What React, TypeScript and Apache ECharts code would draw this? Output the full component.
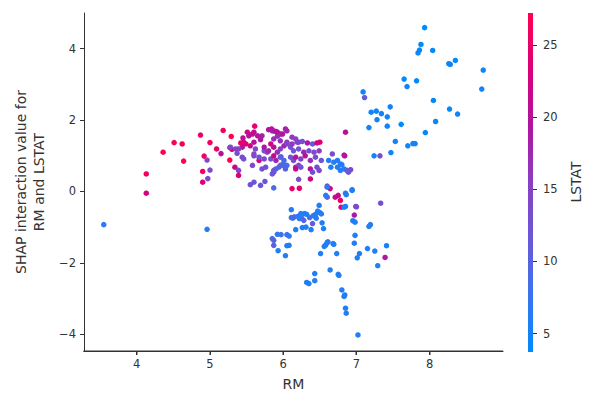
import React, { useEffect, useRef } from "react";
import * as echarts from "echarts";

// Each index is one point: RM (x), SHAP interaction value (y), LSTAT (colour)
const rm = [
  7.93, 7.88, 7.86, 7.84, 8.04, 8.26, 8.28, 8.35, 8.73, 8.71, 7.65, 7.69, 7.82, 7.09, 7.11, 8.05, 8.27, 8.38, 7.46, 7.20,
  7.27, 7.34, 7.42, 7.28, 7.17, 7.42, 7.61, 8.08, 7.94, 7.53, 7.70, 7.77, 7.80, 7.47, 7.24, 7.32, 6.92, 6.94, 6.99, 7.00,
  7.33, 6.97, 6.95, 6.98, 7.17, 7.19, 6.98, 6.97, 7.15, 7.25, 7.41, 7.39, 7.01, 7.04, 7.29, 6.85, 6.84, 6.80, 6.88, 6.85,
  6.71, 6.78, 6.79, 6.75, 6.60, 6.86, 6.85, 6.11, 6.49, 6.50, 6.52, 6.11, 6.13, 6.15, 6.29, 6.32, 6.41, 6.44, 6.22, 6.25,
  6.28, 6.40, 6.53, 6.55, 6.17, 6.26, 6.31, 6.38, 5.92, 5.97, 6.05, 6.08, 5.85, 5.87, 5.87, 5.93, 6.03, 6.05, 6.08, 6.61,
  6.56, 6.58, 6.69, 6.51, 6.73, 6.64, 6.43, 6.43, 6.32, 6.35, 6.75, 6.76, 6.80, 6.83, 6.84, 6.85, 6.86, 7.02, 6.60, 6.68,
  6.20, 6.36, 6.45, 6.24, 6.47,
  4.96, 3.55, 4.13, 4.13, 4.36, 4.51, 4.62, 4.64, 4.87, 5.18, 5.29, 5.00, 5.09, 5.15, 5.27, 5.30, 4.92, 4.96, 4.90, 5.00,
  4.90, 4.97, 5.27, 5.34, 5.39, 5.39, 5.55, 5.60, 5.69, 5.75, 5.87, 6.21, 6.37, 6.60, 6.64, 6.58, 6.94, 6.12, 6.22,
  5.51, 5.53, 5.61, 5.58, 5.71, 5.69, 5.80, 5.84, 5.87, 5.92, 5.96, 5.92, 6.05, 5.46, 5.42, 5.44, 5.39, 5.60, 5.55, 5.62,
  5.74, 5.78, 5.60, 5.67, 5.74, 5.83, 5.90, 5.96, 5.87, 5.92, 5.96, 6.01, 6.05, 5.44, 5.46, 5.58, 5.71, 5.76, 5.87, 5.90,
  5.96, 6.00, 5.45, 5.49, 5.60, 5.65, 5.85, 5.90, 5.99, 6.03, 5.87, 5.96, 6.12, 6.17, 6.21, 6.05, 6.10, 6.14, 5.83, 5.87,
  5.80, 5.74, 5.60, 5.67, 5.28, 5.35, 5.37, 5.97, 6.01, 6.00, 5.94, 6.05, 6.03, 6.10, 6.14, 6.17, 6.21, 5.85, 5.87, 6.12,
  6.19, 6.26, 6.33, 6.40, 6.46, 6.50, 6.21, 6.28, 6.35, 6.42, 6.49, 6.17, 6.24, 6.30, 6.37, 6.44, 6.52, 6.17, 6.24, 6.37,
  6.40, 6.46, 6.49, 6.67, 6.62, 6.69, 6.74, 6.78, 6.74, 6.78, 6.65, 6.83, 6.89, 6.87, 6.83, 6.60, 6.83,
];

const shapVals = [
  4.59, 4.12, 3.96, 3.88, 3.95, 3.58, 3.56, 3.67, 3.40, 2.87, 3.15, 2.94, 3.10, 2.79, 2.63, 2.55, 2.31, 2.17, 2.37, 2.22,
  2.25, 2.18, 2.09, 2.01, 1.79, 1.83, 1.88, 1.96, 1.65, 1.40, 1.28, 1.34, 1.34, 1.09, 1.00, 1.00, 0.61, 0.05, -0.42, -0.43,
  -0.33, -0.66, -0.82, -0.86, -0.98, -0.93, -1.23, -1.45, -1.60, -1.67, -1.52, -1.85, -1.86, -1.74, -2.08, 1.66, 1.00, 0.75, 0.58, -0.05,
  -0.16, -0.25, -0.44, -0.11, -0.16, -0.09, -0.42, -0.51, -0.39, -0.59, -0.63, -0.73, -0.75, -0.71, -0.62, -0.64, -0.68, -0.64, -0.76, -0.74,
  -0.81, -0.90, -0.88, -1.04, -1.07, -1.01, -1.00, -1.07, -1.20, -1.21, -1.21, -1.25, -1.32, -1.37, -1.51, -1.66, -1.80, -1.52, -1.51, -1.41,
  -1.54, -1.50, -1.48, -1.74, -1.74, -2.20, -2.30, -2.50, -2.55, -2.58, -2.32, -2.35, -2.76, -2.94, -2.90, -3.27, -3.41, -4.02, -1.43, -1.46,
  -0.70, -0.73, -0.75, -0.62, -0.55,
  -1.06, -0.93, 0.49, -0.05, 1.10, 1.37, 1.33, 0.85, 1.58, 1.71, 1.54, 1.37, 1.19, 1.06, 1.23, 1.18, 0.99, 0.88, 0.56, 0.60,
  0.26, 0.36, 0.88, 0.68, 0.59, 0.45, 0.19, 0.26, 0.17, 0.28, 0.10, 0.34, 0.35, 0.15, 0.08, -0.11, 0.03, 0.08, 0.09,
  1.66, 1.56, 1.83, 1.61, 1.56, 1.45, 1.73, 1.75, 1.70, 1.66, 1.61, 1.55, 1.70, 1.38, 1.36, 1.24, 1.19, 1.38, 1.28, 1.19,
  1.14, 1.10, 1.00, 0.87, 0.91, 0.91, 0.87, 0.96, 1.00, 1.10, 1.19, 1.28, 1.38, 0.96, 0.91, 0.73, 0.63, 0.68, 0.59, 0.63,
  0.73, 0.77, 1.50, 1.33, 1.66, 1.56, 1.70, 1.68, 1.61, 1.75, 1.47, 1.42, 1.52, 1.47, 1.38, 1.33, 1.24, 1.14, 1.33, 1.24,
  1.14, 1.24, 1.05, 0.96, 1.24, 1.19, 1.07, 0.97, 0.87, 0.73, 0.68, 0.73, 0.63, 0.96, 0.87, 0.68, 0.73, 0.49, 0.54, 1.33,
  1.38, 1.40, 1.36, 1.33, 1.36, 1.38, 1.19, 1.10, 1.14, 1.10, 1.14, 0.96, 0.91, 1.00, 0.87, 0.96, 0.87, 0.63, 0.68, 0.63,
  0.54, 0.68, 0.59, 1.05, 0.87, 0.82, 0.87, 0.77, 0.68, 0.59, 0.68, 0.63, 0.54, 0.59, 1.02, 0.12, -0.44,
];

const lstat = [
  4, 4, 4, 5, 4, 4, 5, 4, 5, 5, 4, 5, 4, 5, 11, 4, 4, 5, 5, 5,
  5, 5, 5, 5, 5, 5, 4, 4, 4, 5, 5, 5, 5, 5, 5, 13, 14, 6, 13, 14,
  13, 19, 6, 6, 6, 6, 6, 6, 6, 6, 5, 19, 6, 6, 6, 20, 20, 6, 12, 6,
  22, 25, 24, 21, 10, 6, 6, 6, 6, 6, 7, 9, 8, 9, 6, 6, 6, 6, 7, 7,
  10, 11, 6, 6, 6, 6, 6, 6, 7, 8, 8, 7, 9, 10, 11, 6, 6, 6, 6, 6,
  6, 6, 6, 6, 6, 6, 6, 6, 6, 6, 6, 6, 6, 6, 6, 6, 6, 6, 6, 6,
  7, 8, 7, 6, 6,
  6, 7, 26, 23, 27, 27, 26, 27, 25, 26, 27, 26, 25, 20, 15, 24, 26, 14, 26, 14,
  24, 14, 27, 22, 14, 24, 12, 12, 12, 12, 9, 13, 22, 14, 22, 6, 6, 25, 25,
  22, 20, 25, 21, 18, 19, 20, 19, 18, 20, 19, 17, 18, 24, 25, 20, 15, 20, 22, 14,
  13, 15, 14, 22, 14, 13, 18, 13, 22, 17, 15, 18, 16, 14, 13, 14, 13, 13, 11, 10,
  10, 10, 20, 24, 21, 20, 19, 20, 19, 18, 17, 17, 16, 15, 16, 15, 13, 12, 22, 20,
  18, 19, 14, 13, 14, 15, 13, 10, 9, 9, 10, 9, 10, 12, 14, 18, 14, 12, 12, 16,
  15, 13, 19, 12, 22, 24, 12, 18, 13, 14, 16, 20, 15, 20, 17, 13, 12, 22, 12, 20,
  13, 13, 14, 13, 6, 6, 6, 6, 7, 6, 6, 6, 12, 11, 19, 6, 6,
];

const xTicks = [4, 5, 6, 7, 8];
const yTicks = [-4, -2, 0, 2, 4];
const cbTicks = [5, 10, 15, 20, 25];
const xMin = 3.28;
const xMax = 9.0;
const yMin = -4.47;
const yMax = 5.0;
const lstatMin = 3.8;
const lstatMax = 27.2;

const cmapColors = ["#008bfb", "#3a74ee", "#6a58d8", "#8a3fc4", "#b0149f", "#d9007a", "#ff0052"];

const FONT = "DejaVu Sans";
const INK = "#333333";

export default function App() {
  const ref = useRef<HTMLDivElement>(null);

  useEffect(() => {
    if (!ref.current) return;
    const chart = echarts.init(ref.current, undefined, { renderer: "svg" });
    const n = Math.min(rm.length, shapVals.length, lstat.length);
    const data: number[][] = [];
    for (let i = 0; i < n; i++) data.push([rm[i], shapVals[i], lstat[i]]);

    const minus = (v: number) => String(v).replace("-", "\u2212");
    const gradient = new echarts.graphic.LinearGradient(
      0,
      1,
      0,
      0,
      cmapColors.map((c, i) => ({ offset: i / (cmapColors.length - 1), color: c }))
    );
    const colorbarRect = {
      type: "rect",
      id: "colorbar",
      silent: true,
      z: 0,
      shape: { x: 528, y: 13, width: 5, height: 339 },
      style: { fill: gradient },
    };

    chart.setOption({
      animation: false,
      textStyle: { fontFamily: FONT },
      grid: { left: 84, top: 13, right: 88, bottom: 43, containLabel: false },
      visualMap: {
        show: false,
        type: "continuous",
        min: lstatMin,
        max: lstatMax,
        dimension: 2,
        seriesIndex: 0,
        inRange: { color: cmapColors },
      },
      graphic: [colorbarRect],
      xAxis: {
        type: "value",
        min: xMin,
        max: xMax,
        name: "RM",
        nameLocation: "middle",
        nameGap: 26,
        nameTextStyle: { fontSize: 14, color: INK, fontFamily: FONT },
        axisLine: { show: true, onZero: false, lineStyle: { color: INK, width: 1.2 } },
        axisTick: { show: true, customValues: xTicks, length: 4, lineStyle: { color: INK, width: 1 } },
        axisLabel: { customValues: xTicks, fontSize: 11.5, color: INK, margin: 7, fontFamily: FONT },
        splitLine: { show: false },
      },
      yAxis: [
        {
          type: "value",
          min: yMin,
          max: yMax,
          name: "SHAP interaction value for\nRM and LSTAT",
          nameLocation: "middle",
          nameGap: 35,
          nameTextStyle: { fontSize: 14, color: INK, fontFamily: FONT, lineHeight: 18 },
          axisLine: { show: true, onZero: false, lineStyle: { color: INK, width: 1 } },
          axisTick: { show: true, customValues: yTicks, length: 4, lineStyle: { color: INK } },
          axisLabel: {
            customValues: yTicks,
            fontSize: 11.5,
            color: INK,
            margin: 8,
            fontFamily: FONT,
            formatter: (v: number) => minus(v),
          },
          splitLine: { show: false },
        },
        {
          type: "value",
          position: "right",
          offset: 30,
          min: lstatMin,
          max: lstatMax,
          name: "LSTAT",
          nameLocation: "middle",
          nameRotate: 90,
          nameGap: 35,
          nameTextStyle: { fontSize: 14, color: INK, fontFamily: FONT },
          axisLine: { show: false, onZero: false },
          axisTick: { show: true, customValues: cbTicks, length: 4, lineStyle: { color: INK } },
          axisLabel: { customValues: cbTicks, fontSize: 11.5, color: INK, margin: 10, fontFamily: FONT },
          splitLine: { show: false },
        },
      ],
      series: [
        {
          type: "scatter",
          xAxisIndex: 0,
          yAxisIndex: 0,
          data,
          symbol: "circle",
          symbolSize: 5.5,
          itemStyle: { opacity: 1 },
        },
      ],
    });

    // Bottom spine and its ticks as filled rects, placed through the chart's own scales
    const px = (v: number) => Number(chart.convertToPixel({ xAxisIndex: 0 }, v));
    const yPix = Number(chart.convertToPixel({ yAxisIndex: 0 }, yMin));
    const yB = isFinite(yPix) ? Math.round(yPix) : 353;
    const xL = isFinite(px(xMin)) ? px(xMin) : 84;
    const xR = isFinite(px(xMax)) ? px(xMax) : 503;
    const spine = {
      type: "rect",
      id: "xspine",
      silent: true,
      z: 100,
      zlevel: 0,
      shape: { x: xL - 0.5, y: yB - 0.5, width: xR - xL + 0.5, height: 1.2 },
      style: { fill: INK },
    };
    const ticks = xTicks.map((t, i) => ({
      type: "rect",
      id: "xtick" + i,
      silent: true,
      z: 100,
      shape: { x: Math.round(px(t)) - 0.5, y: yB, width: 1, height: 4 },
      style: { fill: INK },
    }));
    chart.setOption({ graphic: [colorbarRect, spine, ...ticks] });

    return () => chart.dispose();
  }, []);

  return (
    <div
      ref={ref}
      style={{ position: "absolute", left: 0, top: 0, width: 591, height: 396, background: "#fff" }}
    />
  );
}
